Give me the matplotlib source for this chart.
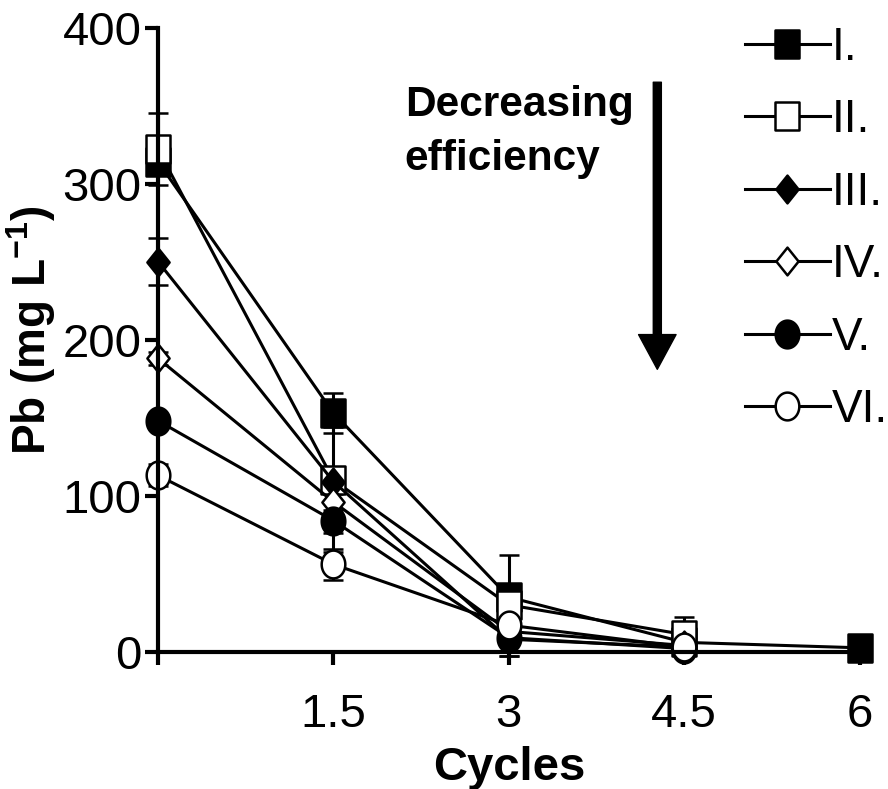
import numpy as np
import matplotlib
matplotlib.use("Agg")
import matplotlib.pyplot as plt
from matplotlib.path import Path
from matplotlib.lines import Line2D

plt.rcParams['font.family'] = ['Liberation Sans', 'DejaVu Sans']
plt.rcParams['mathtext.fontset'] = 'custom'
plt.rcParams['mathtext.rm'] = 'Liberation Sans'
plt.rcParams['mathtext.bf'] = 'Liberation Sans:bold'

nan = np.nan
cycles = [0, 1.5, 3, 4.5, 6]
x_ticks = [0, 1.5, 3, 4.5, 6]
x_tick_labels = ['', '1.5', '3', '4.5', '6']
y_ticks = [0, 100, 200, 300, 400]

labels = ['I.', 'II.', 'III.', 'IV.', 'V.', 'VI.']
s1 = [314, 153, 35, 6, 2.5]
s2 = [322, 110, 30, 11, nan]
s3 = [250, 109, 8, 3, nan]
s4 = [188, 96, 13, 4, nan]
s5 = [148, 84, 9, 2, nan]
s6 = [113, 56, 17, 3, nan]
e1 = [8, 13, 27, 3, 1]
e2 = [23, 34, 10, 11, nan]
e3 = [15, 5, 11, 2, nan]
e4 = [4, 5, 6, 2, nan]
e5 = [3, 20, 12, 2, nan]
e6 = [7, 10, 8, 2, nan]
series = [s1, s2, s3, s4, s5, s6]
errors = [e1, e2, e3, e4, e5, e6]

def ellipse(rx=0.85, ry=1.0):
    t = np.linspace(0, 2 * np.pi, 80)
    v = np.column_stack([rx * np.cos(t), ry * np.sin(t)])
    return Path(v, closed=True)

square = Path([(-0.85, -1), (0.85, -1), (0.85, 1), (-0.85, 1), (-0.85, -1)], closed=True)
diamond = Path([(0, -1), (0.8, 0), (0, 1), (-0.8, 0), (0, -1)], closed=True)
circ = ellipse()
markers = [square, square, diamond, diamond, circ, circ]
faces = ['black', 'white', 'black', 'white', 'black', 'white']

fig = plt.figure(figsize=(8.88, 7.89), dpi=100)
ax = fig.add_axes([0.178, 0.174, 0.790, 0.791])

lw = 2.2
handles = []
for y, e, m, fc, lab in zip(series, errors, markers, faces, labels):
    c = ax.errorbar(cycles, y, yerr=e, color='black', lw=lw, marker=m, ms=20,
                    mfc=fc, mec='black', mew=1.8, capsize=7, capthick=lw,
                    elinewidth=lw)
    for art in c.get_children():
        art.set_clip_on(False)
    handles.append(Line2D([], [], color='black', lw=lw, marker=m, ms=20,
                          mfc=fc, mec='black', mew=1.8, label=lab))

ax.set_xlim(0, 6)
ax.set_ylim(0, 400)
ax.set_xticks(x_ticks)
ax.set_xticklabels(x_tick_labels)
ax.set_yticks(y_ticks)
for s in ['top', 'right']:
    ax.spines[s].set_visible(False)
for s in ['left', 'bottom']:
    ax.spines[s].set_linewidth(3)
    ax.spines[s].set_zorder(5)
ax.tick_params(axis='both', width=3, length=9.5, labelsize=34, direction='out')
ax.tick_params(axis='x', pad=20)
ax.tick_params(axis='y', pad=2.5)

ax.set_xlabel('Cycles', fontsize=34, fontweight='bold', labelpad=7)
ax.set_ylabel(r'Pb (mg L$^{\mathbf{-1}}$)', fontsize=33, fontweight='bold')
ax.yaxis.set_label_coords(-0.142, 0.515)

ax.annotate('', xy=(4.27, 181), xytext=(4.27, 365),
            arrowprops=dict(width=5.8, headwidth=27, headlength=25,
                            facecolor='black', edgecolor='black', shrink=0))
ax.text(2.11, 363, 'Decreasing\nefficiency', fontsize=30.5, fontweight='bold',
        ha='left', va='top', linespacing=1.45)

leg = ax.legend(handles=handles, loc='upper left',
                bbox_to_anchor=(745 / 888, 1 - 26 / 789),
                bbox_transform=fig.transFigure, frameon=False, fontsize=33,
                handlelength=1.85, handletextpad=0.05, labelspacing=0.62,
                borderpad=0, borderaxespad=0)

fig.savefig('out.png', dpi=100)
